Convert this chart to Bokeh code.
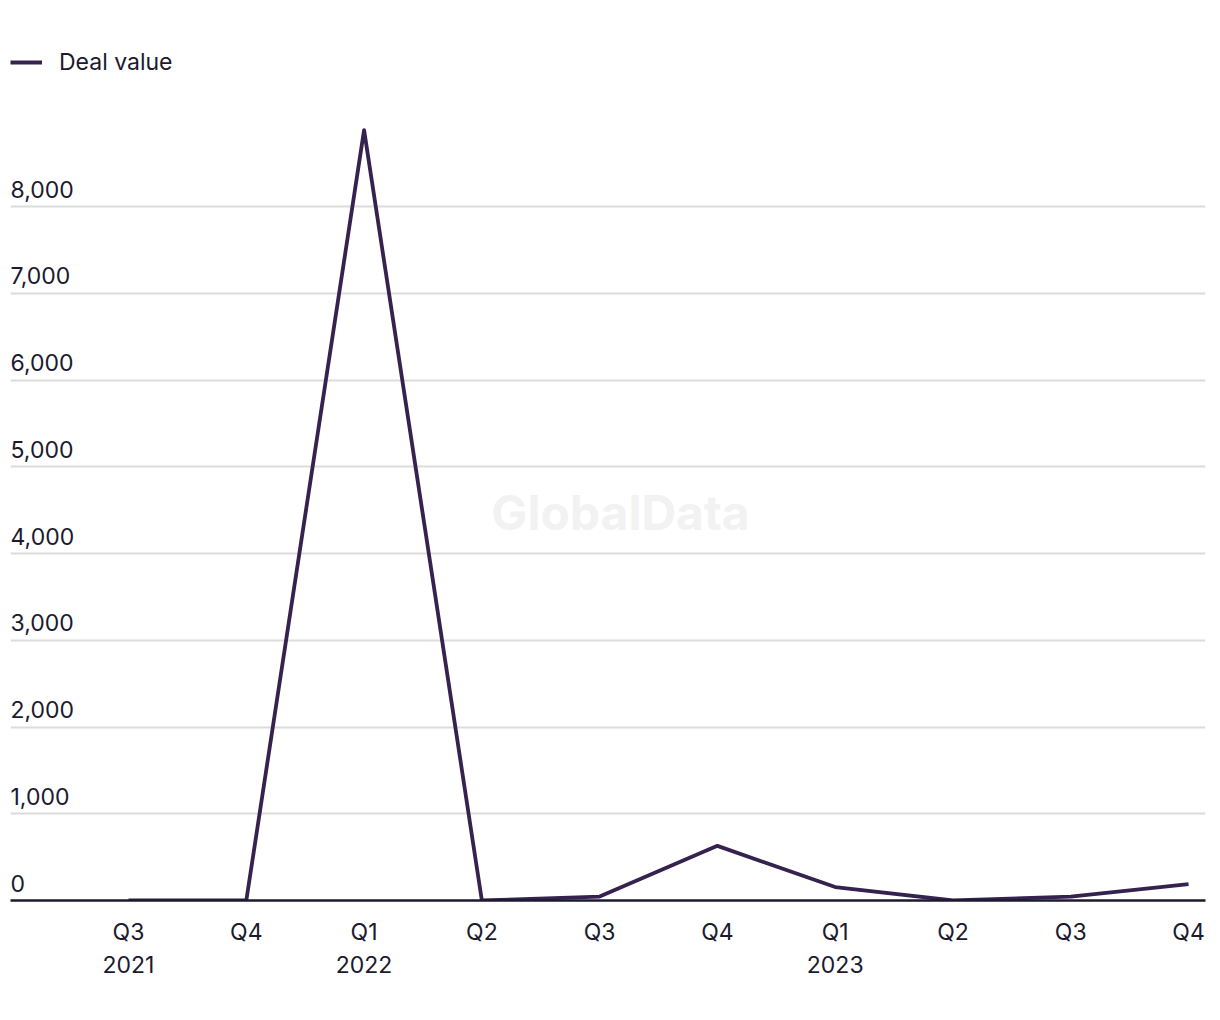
from bokeh.plotting import figure
from bokeh.models import ColumnDataSource, FixedTicker, Range1d, Legend, LegendItem, Label
from bokeh.core.properties import value
from bokeh.embed import file_html
from bokeh.resources import INLINE

quarters = ["Q3 2021", "Q4 2021", "Q1 2022", "Q2 2022", "Q3 2022",
            "Q4 2022", "Q1 2023", "Q2 2023", "Q3 2023", "Q4 2023"]
tick_labels = ["Q3\n2021", "Q4", "Q1\n2022", "Q2", "Q3", "Q4", "Q1\n2023", "Q2", "Q3", "Q4"]
deal_value = [0, 0, 8880, 0, 45, 630, 155, 0, 45, 190]
y_ticks = [0, 1000, 2000, 3000, 4000, 5000, 6000, 7000, 8000]
y_tick_labels = ["0", "1,000", "2,000", "3,000", "4,000", "5,000", "6,000", "7,000", "8,000"]

FONT = "Inter"
TEXT = "#1b1a2e"
LINE = "#36224f"

xs = list(range(len(quarters)))
x_start, x_end = -1.002, 9.144
y_end = 900 / 86.75 * 1000

p = figure(width=1220, height=1020, output_backend="svg", toolbar_location=None,
           x_range=Range1d(x_start, x_end), y_range=Range1d(0, y_end),
           min_border_left=10, min_border_right=15, min_border_top=0, min_border_bottom=120)
p.outline_line_color = None
p.background_fill_color = "white"
p.border_fill_color = "white"

p.yaxis.visible = False
p.ygrid.ticker = FixedTicker(ticks=y_ticks)
p.ygrid.grid_line_color = "#dcdcdc"
p.ygrid.grid_line_width = 2
p.xgrid.visible = False

p.xaxis.ticker = FixedTicker(ticks=xs)
p.xaxis.major_label_overrides = {i: t for i, t in zip(xs, tick_labels)}
p.xaxis.major_tick_line_color = None
p.xaxis.minor_tick_line_color = None
p.xaxis.axis_line_color = TEXT
p.xaxis.axis_line_width = 2.5
p.xaxis.major_label_text_font = FONT
p.xaxis.major_label_text_font_size = "23px"
p.xaxis.major_label_text_color = TEXT
p.xaxis.major_label_standoff = 11

# watermark
p.add_layout(Label(x=610, y=1020 - 512 - 120, x_units="screen", y_units="screen",
                   text="GlobalData", text_align="center", text_baseline="middle",
                   text_font=FONT, text_font_style="bold", text_font_size="48px",
                   text_color="#f2f2f2"))

ysrc = ColumnDataSource(dict(x=[x_start] * len(y_ticks), y=y_ticks, t=y_tick_labels))
p.text(x="x", y="y", text="t", source=ysrc, text_align="left", text_baseline="bottom",
       y_offset=-9, x_offset=0, text_font=value(FONT), text_font_size="23px", text_color=TEXT)

src = ColumnDataSource(dict(x=xs, y=deal_value, q=quarters))
r = p.line(x="x", y="y", source=src, line_color=LINE, line_width=3.8, line_join="round")

legend = Legend(items=[LegendItem(label="Deal value", renderers=[r])],
                location=(0, 900 - 76), margin=0, padding=0, glyph_width=32, glyph_height=26,
                label_standoff=17, label_text_font=FONT, label_text_font_size="23px",
                label_text_color=TEXT, border_line_color=None, background_fill_alpha=0)
p.add_layout(legend)

open("out.html", "w").write(file_html(p, INLINE))
